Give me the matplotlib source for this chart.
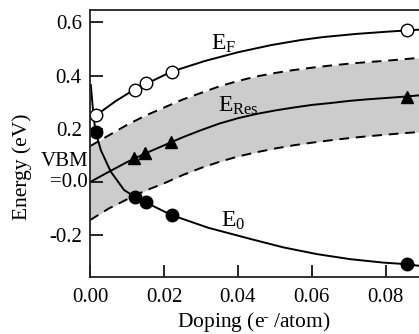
import matplotlib
matplotlib.use('Agg')
import matplotlib.pyplot as plt
import matplotlib.transforms as mtransforms

plt.rcParams['font.family'] = 'Liberation Serif'
plt.rcParams['mathtext.fontset'] = 'custom'
plt.rcParams['mathtext.rm'] = 'Liberation Serif'
plt.rcParams['mathtext.it'] = 'Liberation Serif:italic'

# measured points
dop = [0.0015, 0.0121, 0.0151, 0.0222, 0.0857]
ef_pts = [0.252, 0.348, 0.371, 0.415, 0.570]
e0_pts = [0.187, -0.055, -0.076, -0.124, -0.309]
res_dop = [0.0119, 0.0148, 0.0220, 0.0857]
res_pts = [0.090, 0.108, 0.152, 0.321]

# fitted curves
ef_x = [0.0015, 0.007, 0.012, 0.022, 0.031, 0.040, 0.049, 0.057, 0.063, 0.072, 0.081, 0.0857, 0.089]
ef_y = [0.250, 0.305, 0.348, 0.415, 0.455, 0.488, 0.515, 0.534, 0.545, 0.557, 0.566, 0.570, 0.573]

e0_x = [0.0002, 0.0006, 0.001, 0.0015, 0.0029, 0.0056, 0.0092, 0.012, 0.015, 0.022, 0.032,
        0.0434, 0.0524, 0.0614, 0.0704, 0.0794, 0.0858, 0.089]
e0_y = [0.365, 0.300, 0.240, 0.190, 0.120, 0.039, -0.030, -0.055, -0.076, -0.124, -0.172,
        -0.214, -0.246, -0.271, -0.290, -0.303, -0.309, -0.315]

band_x = [0, 0.005, 0.010, 0.015, 0.020, 0.025, 0.030, 0.035, 0.040, 0.045, 0.050,
          0.055, 0.060, 0.065, 0.070, 0.075, 0.080, 0.085, 0.089]
res_y = [0.0, 0.038, 0.075, 0.108, 0.138, 0.168, 0.195, 0.220, 0.240, 0.256, 0.269,
         0.280, 0.290, 0.297, 0.305, 0.311, 0.316, 0.321, 0.326]
upper_y = [0.135, 0.175, 0.215, 0.250, 0.280, 0.310, 0.335, 0.360, 0.380, 0.397, 0.410,
           0.421, 0.430, 0.438, 0.445, 0.451, 0.456, 0.462, 0.467]
lower_y = [-0.143, -0.100, -0.065, -0.032, -0.005, 0.026, 0.053, 0.076, 0.096, 0.112, 0.126,
           0.138, 0.148, 0.157, 0.165, 0.172, 0.178, 0.184, 0.188]

yticks = [-0.2, 0.0, 0.2, 0.4, 0.6]
ytick_labels = ['-0.2', '', '0.2', '0.4', '0.6']
xticks = [0.0, 0.02, 0.04, 0.06, 0.08]
xtick_labels = ['0.00', '0.02', '0.04', '0.06', '0.08']

fig = plt.figure(figsize=(4.19, 3.34), dpi=100)
ax = fig.add_axes([0.215, 0.1707, 0.785, 0.7994])

ax.fill_between(band_x, lower_y, upper_y, color='#cccccc', lw=0)
for yy in (upper_y, lower_y):
    ln, = ax.plot(band_x, yy, color='black', lw=1.4)
    ln.set_dashes((5, 3.5))

ax.plot(ef_x, ef_y, color='black', lw=1.4)
ax.plot(band_x, res_y, color='black', lw=1.4)
ax.plot(e0_x, e0_y, color='black', lw=1.4)

ax.plot(dop, ef_pts, 'o', mfc='white', mec='black', mew=1.0, ms=9)
ax.plot(dop, e0_pts, 'o', color='black', ms=9)
ax.plot(res_dop, res_pts, '^', color='black', ms=8)

ax.text(0.0326, 0.496, r'E$_{\rm F}$', fontsize=17, va='baseline')
ax.text(0.0345, 0.263, r'E$_{\rm Res}$', fontsize=17, va='baseline')
ax.text(0.0353, -0.169, r'E$_{\rm 0}$', fontsize=17, va='baseline')

ax.set_xlim(0, 0.089)
ax.set_ylim(-0.357, 0.647)
ax.set_xticks(xticks)
ax.set_xticklabels(xtick_labels)
ax.set_yticks(yticks)
ax.set_yticklabels(ytick_labels)
ax.tick_params(direction='in', length=9, width=1.2, labelsize=15, pad=6)
ax.tick_params(axis='x', pad=8)
ax.spines['right'].set_visible(False)
for s in ('left', 'bottom', 'top'):
    ax.spines[s].set_linewidth(1.3)
    ax.spines[s].set_color('#222222')

trans = mtransforms.blended_transform_factory(ax.transAxes, ax.transData)
ax.text(-0.006, 0.0, '=0.0', transform=trans, ha='right', va='center', fontsize=15)
ax.text(-0.006, 0.041, 'VBM', transform=trans, ha='right', va='bottom', fontsize=15)

fig.text(22 / 419, 1 - 167 / 334, 'Energy (eV)', rotation=90, ha='center', va='center', fontsize=15.5)
fig.text(254 / 419, 1 - 322 / 334, r'Doping (e$^{\bar{\ }}$ /atom)', ha='center', va='center', fontsize=15.5)

fig.savefig('out.png', dpi=100)
